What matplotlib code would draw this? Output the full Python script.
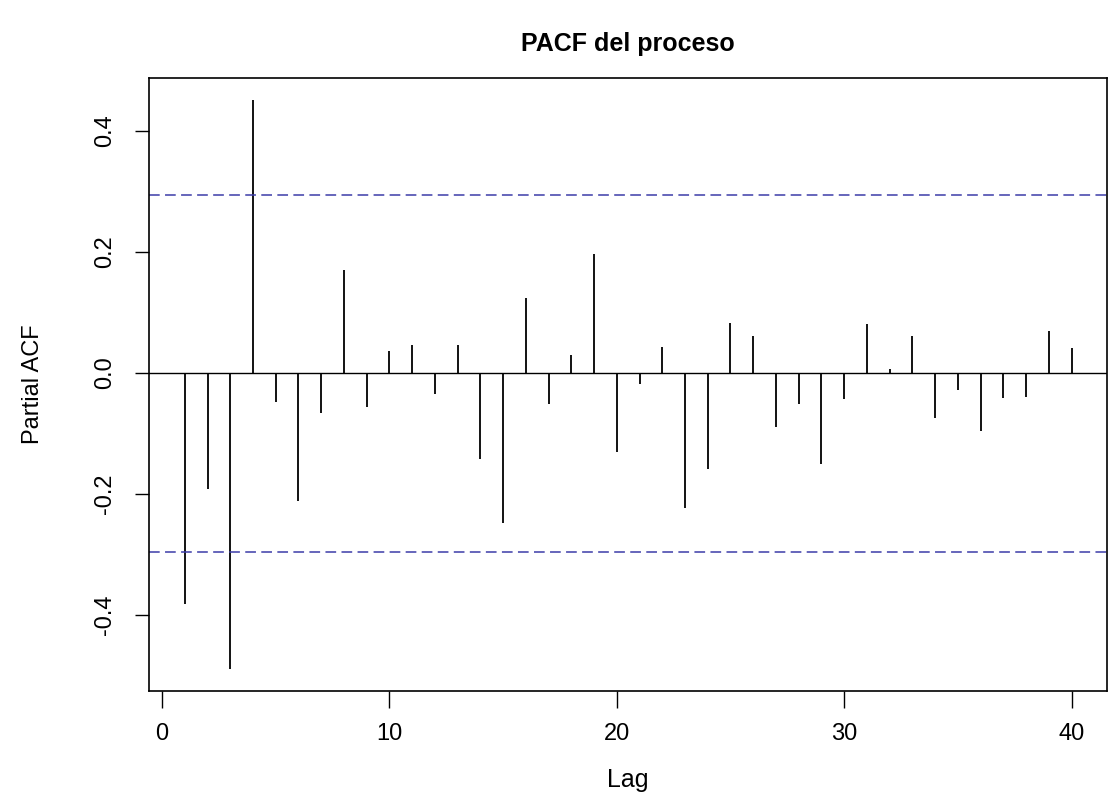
import numpy as np
import matplotlib
matplotlib.use("Agg")
import matplotlib.pyplot as plt

plt.rcParams['font.family'] = ['Liberation Sans', 'DejaVu Sans']

# PACF values, lags 1..40
lags = list(range(1, 41))
pacf = [-0.383, -0.193, -0.490, 0.451, -0.048, -0.212, -0.066, 0.170, -0.057, 0.036,
        0.045, -0.035, 0.045, -0.142, -0.248, 0.123, -0.052, 0.030, 0.196, -0.131,
        -0.019, 0.043, -0.223, -0.159, 0.083, 0.061, -0.089, -0.051, -0.151, -0.044,
        0.080, 0.006, 0.061, -0.075, -0.029, -0.096, -0.042, -0.040, 0.069, 0.041]
conf_upper = 0.294
conf_lower = -0.297
xticks = [0, 10, 20, 30, 40]
yticks = [-0.4, -0.2, 0.0, 0.2, 0.4]

fig = plt.figure(figsize=(11.12, 7.96), dpi=100)
ax = fig.add_axes([0.1343, 0.1323, 0.8612, 0.7701])

ax.vlines(lags, 0, pacf, color='black', linewidth=1.3)
ax.axhline(0, color='black', linewidth=1.0)
ax.axhline(conf_upper, color='#3c3ca8', linewidth=1.1, linestyle=(0, (7, 3.5)))
ax.axhline(conf_lower, color='#3c3ca8', linewidth=1.1, linestyle=(0, (7, 3.5)))

ax.set_xlim(-0.56, 41.56)
ax.set_ylim(-0.526, 0.488)
ax.set_xticks(xticks)
ax.set_yticks(yticks)
ax.set_xticklabels([str(t) for t in xticks])
ax.set_yticklabels([f"{t:.1f}" for t in yticks], rotation=90, va='center')

for s in ax.spines.values():
    s.set_linewidth(1.2)
ax.tick_params(axis='x', length=12, width=1.0, labelsize=17, pad=11)
ax.tick_params(axis='y', length=10, width=1.0, labelsize=17, pad=14)

ax.set_xlabel("Lag", fontsize=18, labelpad=17)
ax.set_ylabel("Partial ACF", fontsize=17, labelpad=36)
ax.set_title("PACF del proceso", fontsize=18, fontweight='bold', pad=19)

fig.savefig("out.png", dpi=100)
